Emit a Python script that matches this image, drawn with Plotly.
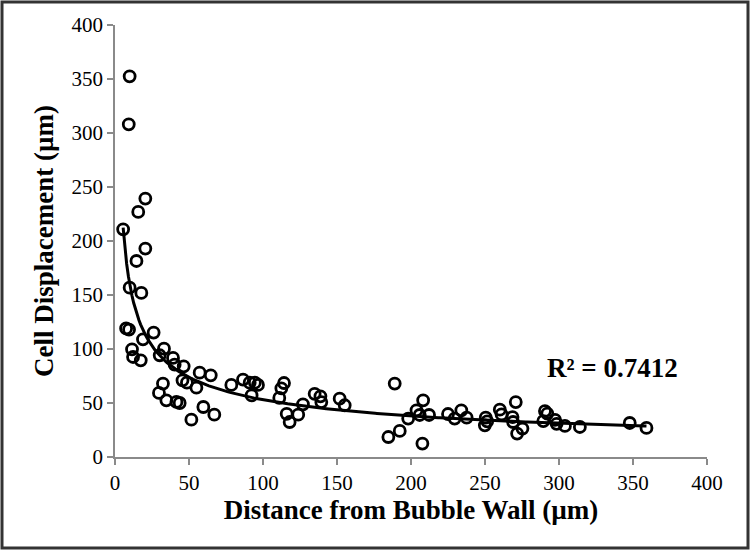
import numpy as np
import plotly.graph_objects as go

distance = [5.5, 9.9, 9.3, 20.5, 15.7, 20.5, 14.5, 9.9, 17.8, 7.5, 9.5, 26.1, 18.9, 11.5, 12.2, 17.4,
            33.1, 30.2, 39.2, 40.3, 46.4, 32.4, 29.7, 34.7, 41.5, 43.7, 45.6, 48.6, 55.0, 57.2, 64.7,
            51.6, 59.7, 67.1, 78.6, 86.5, 91.0, 94.5, 96.6, 92.3, 111.0, 112.4, 114.2, 116.0, 118.0,
            123.8, 127.0, 134.9, 138.8, 139.4, 151.8, 155.2, 189.0, 184.7, 192.4, 198.1, 203.7, 208.2,
            205.9, 212.2, 207.7, 225.0, 229.5, 234.0, 237.6, 250.5, 249.9, 251.5, 260.0, 261.2, 268.6,
            269.0, 270.8, 271.7, 275.3, 289.4, 290.5, 292.1, 297.3, 298.4, 304.0, 314.1, 347.8, 359.1]
displacement = [210.8, 352.5, 308.0, 239.3, 226.9, 193.0, 181.5, 156.8, 151.9, 119.0, 118.0, 115.2, 109.0, 99.7, 92.6, 89.5,
                100.3, 94.2, 91.7, 85.5, 84.0, 68.0, 59.3, 52.5, 51.0, 50.0, 71.0, 68.8, 64.2, 78.1, 75.6,
                34.6, 46.3, 39.2, 66.7, 71.7, 68.8, 68.8, 66.7, 57.0, 54.7, 63.6, 68.5, 40.0, 32.4,
                39.2, 48.8, 58.5, 56.2, 50.9, 54.0, 47.9, 68.0, 18.5, 24.1, 35.6, 43.2, 52.5,
                38.9, 38.9, 12.4, 39.8, 35.6, 43.2, 36.4, 36.4, 29.3, 33.0, 43.8, 39.4, 37.0,
                32.4, 50.9, 21.7, 26.3, 33.3, 42.5, 40.1, 34.4, 30.7, 28.8, 27.8, 31.5, 26.9]
x_ticks = [0, 50, 100, 150, 200, 250, 300, 350, 400]
y_ticks = [0, 50, 100, 150, 200, 250, 300, 350, 400]
r2_label = "R² = 0.7412"

# power-law trendline fitted to the data
xd = np.array(distance)
yd = np.array(displacement)
b, loga = np.polyfit(np.log(xd), np.log(yd), 1)
xf = np.linspace(xd.min(), xd.max(), 300)
yf = np.exp(loga) * xf ** b

fig = go.Figure()
fig.add_trace(go.Scatter(x=distance, y=displacement, mode="markers",
                         marker=dict(symbol="circle-open", size=11, color="black",
                                     line=dict(width=2.8, color="black")),
                         showlegend=False))
fig.add_trace(go.Scatter(x=xf, y=yf, mode="lines", line=dict(color="black", width=3),
                         showlegend=False))

W, H = 750, 550
ml, mr, mt, mb = 115, 43, 25, 93
pw, ph = W - ml - mr, H - mt - mb

fig.update_layout(
    width=W, height=H,
    margin=dict(l=ml, r=mr, t=mt, b=mb),
    paper_bgcolor="white", plot_bgcolor="white",
    font=dict(family="Liberation Serif", color="black"),
    xaxis=dict(range=[0, 400], tickvals=x_ticks, showgrid=False, zeroline=False,
               showline=True, linecolor="#8a8a8a", linewidth=1.5,
               ticks="outside", ticklen=6, tickcolor="#8a8a8a", tickwidth=1.5,
               tickfont=dict(size=21, family="Liberation Serif", color="black"),
               title=dict(text="<b>Distance from Bubble Wall (µm)</b>",
                          font=dict(size=27, family="Liberation Serif", color="black"),
                          standoff=6)),
    yaxis=dict(range=[0, 400], tickvals=y_ticks, showgrid=False, zeroline=False,
               showline=True, linecolor="#8a8a8a", linewidth=1.5,
               ticks="outside", ticklen=6, tickcolor="#8a8a8a", tickwidth=1.5,
               tickfont=dict(size=21, family="Liberation Serif", color="black"),
               title=dict(text="<b>Cell Displacement (µm)</b>",
                          font=dict(size=27, family="Liberation Serif", color="black"),
                          standoff=10)),
    annotations=[dict(x=336, y=82, xref="x", yref="y", text="<b>" + r2_label + "</b>",
                      showarrow=False, font=dict(size=27, family="Liberation Serif", color="black"))],
    shapes=[dict(type="rect", xref="paper", yref="paper",
                 x0=-(ml - 2) / pw, x1=1 + (mr - 2) / pw,
                 y0=-(mb - 2) / ph, y1=1 + (mt - 2) / ph,
                 line=dict(color="#333333", width=3))],
)

fig.write_html("out.html", config={"displayModeBar": False},
               post_script="document.body.style.margin='0';")
